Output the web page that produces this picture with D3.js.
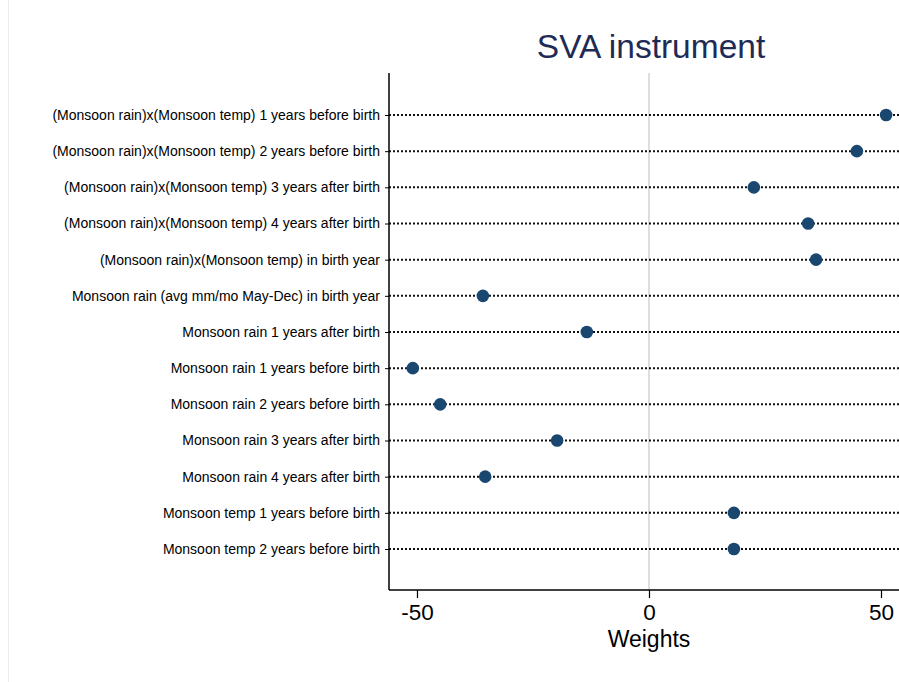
<!DOCTYPE html>
<html>
<head>
<meta charset="utf-8">
<script src="https://cdn.jsdelivr.net/npm/d3@7"></script>
<style>
  html, body { margin: 0; padding: 0; background: #fff; }
  svg { display: block; font-family: "Liberation Sans", Arial, sans-serif; }
</style>
</head>
<body>
<svg id="chart" width="899" height="682"></svg>
<script>
// Instrument weights per variable
const variables = [
  "(Monsoon rain)x(Monsoon temp) 1 years before birth",
  "(Monsoon rain)x(Monsoon temp) 2 years before birth",
  "(Monsoon rain)x(Monsoon temp) 3 years after birth",
  "(Monsoon rain)x(Monsoon temp) 4 years after birth",
  "(Monsoon rain)x(Monsoon temp) in birth year",
  "Monsoon rain (avg mm/mo May-Dec) in birth year",
  "Monsoon rain 1 years after birth",
  "Monsoon rain 1 years before birth",
  "Monsoon rain 2 years before birth",
  "Monsoon rain 3 years after birth",
  "Monsoon rain 4 years after birth",
  "Monsoon temp 1 years before birth",
  "Monsoon temp 2 years before birth"
];
const weights = [51.1, 44.8, 22.6, 34.3, 36.0, -35.8, -13.4, -50.9, -45.0, -19.8, -35.3, 18.3, 18.3];
const xTicks = [-50, 0, 50];
const titleText = "SVA instrument";
const xTitle = "Weights";

const svg = d3.select("#chart");
const W = 899, H = 682;
const plotLeft = 389, plotRight = 899, plotTop = 73, plotBottom = 590;

const x = d3.scaleLinear().domain([-56.03, 53.88]).range([plotLeft, plotRight]);
const y = d3.scalePoint().domain(variables).range([115, 549]);

// faint frame edge
svg.append("line")
  .attr("x1", 8.5).attr("x2", 8.5).attr("y1", 0).attr("y2", H)
  .attr("stroke", "#e8eeee").attr("stroke-width", 1);

// zero reference line
svg.append("line")
  .attr("x1", x(0)).attr("x2", x(0)).attr("y1", plotTop).attr("y2", plotBottom)
  .attr("stroke", "#bdbdbd").attr("stroke-width", 1);

// dotted guide lines
svg.append("g").selectAll("line").data(variables).join("line")
  .attr("x1", plotLeft).attr("x2", plotRight)
  .attr("y1", d => y(d)).attr("y2", d => y(d))
  .attr("stroke", "#111").attr("stroke-width", 2)
  .attr("stroke-dasharray", "2 2");

// y axis
const yAxis = d3.axisLeft(y).tickSize(4).tickPadding(5);
const gy = svg.append("g").attr("transform", `translate(${plotLeft},0)`).call(yAxis);
gy.select(".domain").remove();
gy.append("line").attr("x1", 0).attr("x2", 0).attr("y1", plotTop).attr("y2", plotBottom)
  .attr("stroke", "#000").attr("stroke-width", 1.5);
gy.selectAll(".tick line").attr("stroke", "#000");
gy.selectAll(".tick text").attr("font-size", 14).attr("fill", "#000")
  .attr("font-family", "'Liberation Sans', Arial, sans-serif");

// x axis
const xAxis = d3.axisBottom(x).tickValues(xTicks).tickSize(8).tickPadding(6)
  .tickFormat(d => String(d));
const gx = svg.append("g").attr("transform", `translate(0,${plotBottom})`).call(xAxis);
gx.select(".domain").remove();
gx.append("line").attr("x1", plotLeft).attr("x2", plotRight).attr("y1", 0).attr("y2", 0)
  .attr("stroke", "#000").attr("stroke-width", 1.5);
gx.selectAll(".tick line").attr("stroke", "#000").attr("stroke-width", 1.2);
gx.selectAll(".tick text").attr("font-size", 22.5).attr("fill", "#000")
  .attr("font-family", "'Liberation Sans', Arial, sans-serif")
  .attr("text-anchor", "middle");

// axis title
svg.append("text").attr("x", x(0)).attr("y", 647)
  .attr("text-anchor", "middle").attr("font-size", 23).attr("fill", "#000")
  .text(xTitle);

// chart title
svg.append("text").attr("x", 651).attr("y", 58)
  .attr("text-anchor", "middle").attr("font-size", 33.5).attr("fill", "#1e2b55")
  .text(titleText);

// points
svg.append("g").selectAll("circle").data(variables).join("circle")
  .attr("cx", (d, i) => x(weights[i]))
  .attr("cy", d => y(d))
  .attr("r", 6.3)
  .attr("fill", "#1a476f");
</script>
</body>
</html>
